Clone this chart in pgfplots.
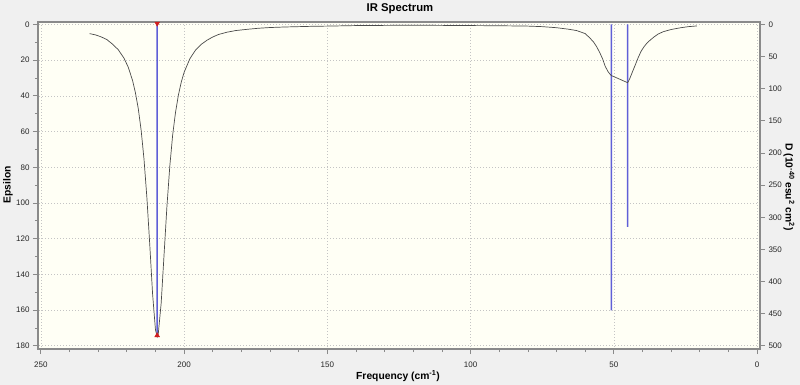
\documentclass[border=0pt]{standalone}
\usepackage{fontspec}
\setmainfont{Liberation Sans}
\usepackage{pgfplots}
\pgfplotsset{compat=1.18}
\definecolor{bgout}{HTML}{F0F0F0}
\definecolor{plotbg}{HTML}{FFFFF5}
\definecolor{axgray}{HTML}{8A8A8A}
\definecolor{gridc}{HTML}{C4C4C4}
\definecolor{curvec}{HTML}{4A4A4A}
\definecolor{stickc}{RGB}{95,95,215}
\definecolor{markc}{RGB}{208,30,30}
\begin{document}
\begin{tikzpicture}[x=1pt,y=1pt]
\fill[bgout] (0,0) rectangle (800,385);
\useasboundingbox (0,0) rectangle (800,385);
\pgfplotsset{
  common/.style={
    at={(38pt,36pt)}, anchor=south west,
    scale only axis, width=722pt, height=327pt,
    xmin=-1, xmax=251, x dir=reverse,
    tick align=outside,
    major tick length=5pt, minor tick length=3pt,
    axis line style={axgray, line width=1.2pt},
    every tick/.style={axgray, line width=0.8pt},
    tick label style={font=\fontsize{8}{9}\selectfont, text=black!85},
    /pgf/number format/assume math mode=true,
  }
}
\begin{axis}[common,
  ymin=-1.4, ymax=181.8, y dir=reverse,
  xtick={0,50,...,250}, minor x tick num=4,
  ytick={0,20,...,180}, minor y tick num=1,
  tick pos=left,
  xticklabel style={yshift=-4pt},
  grid=major, major grid style={gridc, dash pattern=on 1pt off 2pt, line width=0.6pt},
  axis background/.style={fill=plotbg},
  clip=false,
]
% sticks: dipole strengths D = 484, 445, 315 (x10^-40 esu^2 cm^2) expressed on the Epsilon scale (x 180/500)
\addplot[ybar, bar width=1.5pt, fill=stickc, draw=none, mark=none] coordinates {(209.4,174.2) (50.9,160.2) (45.2,113.4)};
\addplot[curvec, line width=0.7pt] table {
233 5.1
231 5.8
229 6.9
227 8.4
225 11.0
223 14.1
221 18.8
219.5 23.9
218 31.3
217 38.2
216 47.1
215 59.2
214 75.4
213 96.8
212 123
211 151
210 171
209.4 175
209 173
208 156
207 129
206 102
205 79.5
204 62
203 49.2
202 39.6
201 32.3
200 26.8
198 19.2
196 14.3
194 11.1
192 8.8
190 7.0
188 5.6
185 4.3
182 3.4
178 2.7
174 2.1
170 1.7
165 1.4
160 1.2
155 1.0
150 0.9
140 0.6
130 0.5
120 0.4
110 0.5
100 0.6
90 0.7
80 0.9
75 1.2
70 1.8
66 2.6
63 3.4
60 5.1
58.3 7.7
57 10
56 12.5
55 15.5
54 19
53 23.5
52 26.5
51 28.5
45.2 32.6
44.5 30.5
43.5 26.5
42.5 22.5
41.5 18.5
40.5 15
39.5 12.5
38.5 10.5
37.3 8.7
36 7
34.5 5.3
32.7 4.0
30 2.8
27 1.9
24 1.2
21 0.8
};
\addplot[only marks, mark=triangle*, mark size=2.8pt, mark options={rotate=180, fill=markc, draw=markc}] coordinates {(209.4,-0.6)};
\addplot[only marks, mark=triangle*, mark size=2.8pt, mark options={fill=markc, draw=markc}] coordinates {(209.4,174.2)};
\end{axis}
\begin{axis}[common,
  ymin=-3.9, ymax=505, y dir=reverse,
  axis x line=none, axis y line*=right,
  ytick={0,50,...,500}, ytick pos=right,
]
\addplot[draw=none] coordinates {(100,0)};
\end{axis}
\node[font=\bfseries\fontsize{11.3}{13}\selectfont] at (400,376) {IR Spectrum};
\node[font=\bfseries\fontsize{10.3}{12}\selectfont] at (398,9) {Frequency (cm\textsuperscript{-1})};
\node[font=\bfseries\fontsize{10.3}{12}\selectfont, rotate=90] at (8,200) {Epsilon};
\node[font=\bfseries\fontsize{10.3}{12}\selectfont, rotate=-90] at (789,198) {D (10\textsuperscript{-40} esu\textsuperscript{2} cm\textsuperscript{2})};
\end{tikzpicture}
\end{document}
